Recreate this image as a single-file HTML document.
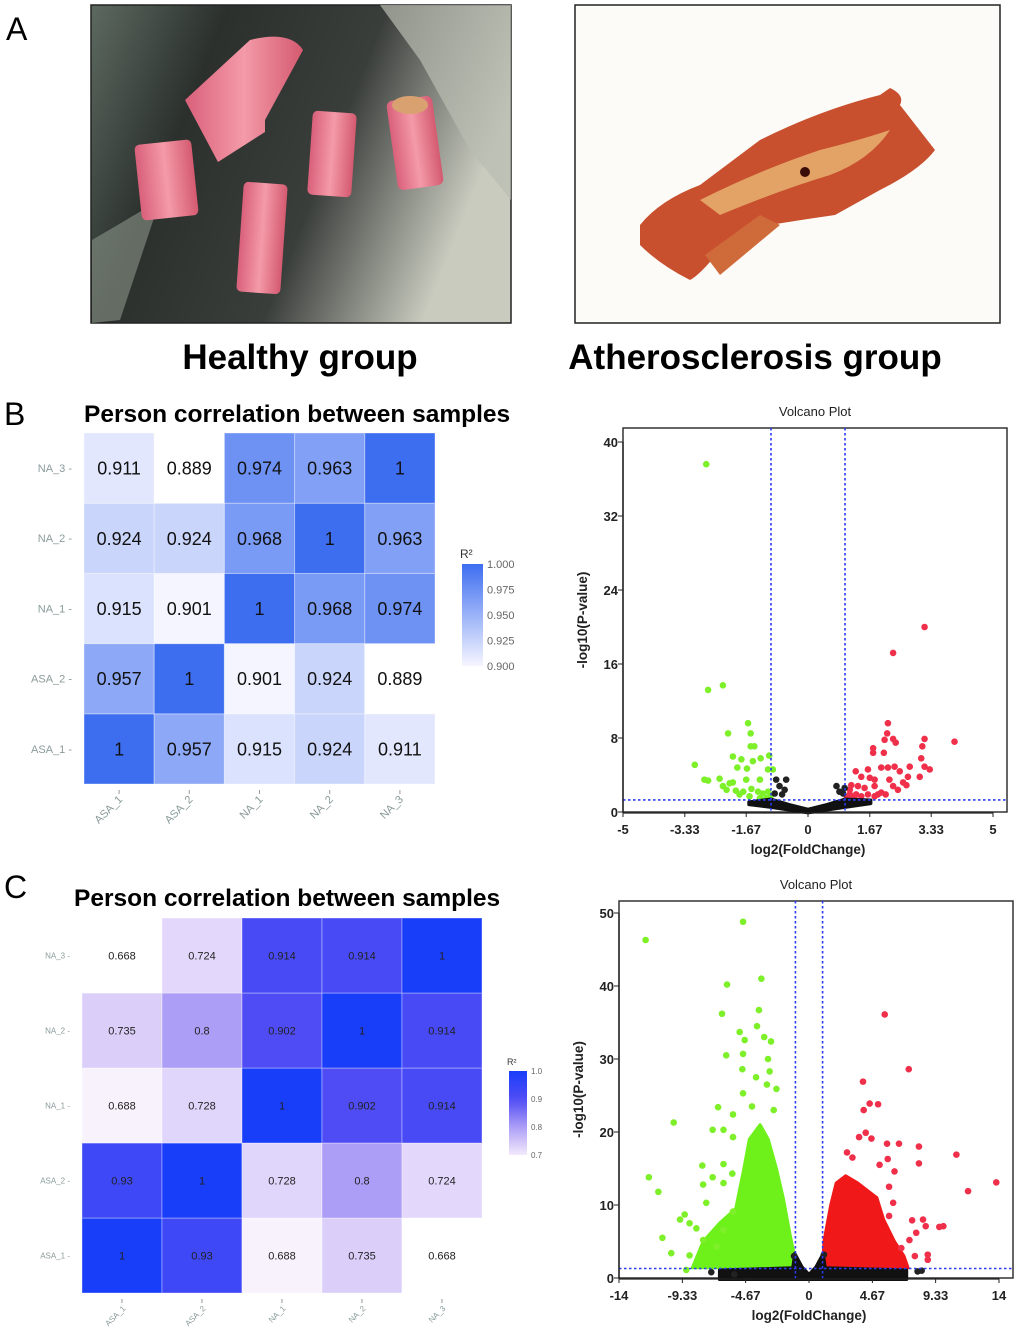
<!DOCTYPE html>
<html><head><meta charset="utf-8">
<style>
html,body{margin:0;padding:0;background:#fff;}
svg{display:block;font-family:"Liberation Sans",sans-serif;}
</style></head>
<body>
<svg id="fig" width="1020" height="1335" viewBox="0 0 1020 1335" xmlns="http://www.w3.org/2000/svg">
<!-- Panel A -->
<text x="6" y="40" font-size="32">A</text>
<g>
  <defs>
    <linearGradient id="lbg" x1="0" y1="0" x2="1" y2="0.3">
      <stop offset="0" stop-color="#5d6a60"/><stop offset="0.3" stop-color="#2b302d"/>
      <stop offset="0.65" stop-color="#3a3e3b"/><stop offset="1" stop-color="#c9cbbf"/>
    </linearGradient>
    <linearGradient id="tube" x1="0" y1="0" x2="1" y2="0">
      <stop offset="0" stop-color="#d9607a"/><stop offset="0.5" stop-color="#f49aa8"/><stop offset="1" stop-color="#d45a70"/>
    </linearGradient>
  </defs>
  <rect x="91" y="5" width="420" height="318" fill="url(#lbg)" stroke="#222" stroke-width="1.5"/>
  <path d="M380 5 L511 5 L511 200 L470 150 L420 60 Z" fill="#b9bcb0" opacity="0.7"/>
  <path d="M92 240 L160 200 L120 320 L92 323 Z" fill="#8a9488" opacity="0.6"/>
  <rect x="138" y="142" width="57" height="76" rx="5" fill="url(#tube)" transform="rotate(-6 166 180)"/>
  <path d="M185 100 L250 40 Q290 30 303 50 L265 120 L265 132 L218 162 Z" fill="url(#tube)"/>
  <rect x="310" y="112" width="44" height="84" rx="5" fill="url(#tube)" transform="rotate(4 332 154)"/>
  <rect x="392" y="98" width="46" height="90" rx="6" fill="url(#tube)" transform="rotate(-8 415 143)"/>
  <ellipse cx="410" cy="105" rx="18" ry="9" fill="#d9a070"/>
  <rect x="240" y="183" width="44" height="110" rx="5" fill="url(#tube)" transform="rotate(4 262 238)"/>
</g>
<g>
  <rect x="575" y="5" width="425" height="318" fill="#fdfbf8" stroke="#222" stroke-width="1.5"/>
  <path d="M640 225 Q660 200 700 185 L760 140 Q820 110 880 95 L890 88 Q905 95 900 105 L935 150 Q920 170 880 190 L835 215 Q800 220 770 225 L720 250 Q700 275 690 280 Q660 265 640 245 Z" fill="#c8502e"/>
  <path d="M700 200 Q760 170 820 150 Q860 140 890 130 Q870 160 830 175 Q780 190 720 215 Z" fill="#e3a366"/>
  <path d="M705 255 L760 215 L780 225 L720 275 Z" fill="#cf6a3a"/>
  <circle cx="805" cy="172" r="5" fill="#3a0c08"/>
</g>
<text x="300" y="369" font-size="35" font-weight="bold" text-anchor="middle">Healthy group</text>
<text x="755" y="369" font-size="35" font-weight="bold" text-anchor="middle">Atherosclerosis group</text>

<text x="4" y="425" font-size="32">B</text>
<text x="84" y="422" font-size="24.5" font-weight="bold">Person correlation between samples</text>
<g id="hmB"></g>
<g id="volB"></g>

<text x="4" y="898" font-size="32">C</text>
<text x="74" y="906" font-size="24.5" font-weight="bold">Person correlation between samples</text>
<g id="hmC"></g>
<g id="volC"></g>
</svg>
<script>
// ---------- data ----------
const samples = ["ASA_1","ASA_2","NA_1","NA_2","NA_3"];
const corrB = [
 [1,0.957,0.915,0.924,0.911],
 [0.957,1,0.901,0.924,0.889],
 [0.915,0.901,1,0.968,0.974],
 [0.924,0.924,0.968,1,0.963],
 [0.911,0.889,0.974,0.963,1]
];
const corrC = [
 [1,0.93,0.688,0.735,0.668],
 [0.93,1,0.728,0.8,0.724],
 [0.688,0.728,1,0.902,0.914],
 [0.735,0.8,0.902,1,0.914],
 [0.668,0.724,0.914,0.914,1]
];
const legendTicksB = [1.000,0.975,0.950,0.925,0.900];
const legendTicksC = [1.0,0.9,0.8,0.7];

const xTicksB = [-5,-3.33,-1.67,0,1.67,3.33,5];
const yTicksB = [0,8,16,24,32,40];
const upB_x = [3.15,2.3,2.16,3.96,3.15,2.14,2.07,2.3,2.37,1.76,1.76,2.05,3.09,3.06,3.15,3.29,2.75,1.98,2.16,2.34,1.62,1.29,2.48,2.7,3.02,1.44,1.67,1.8,2.57,2.66,1.17,1.35,1.53,1.8,2.3,2.43,2.2,1.98,2.1,1.13,1.3,1.44,1.62,1.8,1.89,1.13,1.05,1.25];
const upB_y = [20.0,17.2,9.6,7.6,7.9,8.5,7.8,7.9,7.5,6.9,6.4,6.4,7.1,5.8,4.9,4.6,4.9,4.8,4.8,4.9,4.6,4.4,4.4,3.8,3.8,3.8,3.7,3.5,3.2,2.9,2.9,2.8,2.6,2.8,2.8,2.4,3.5,2.1,1.9,1.9,1.9,1.7,1.9,1.7,1.9,2.4,1.6,1.5];
const downB_x = [-2.75,-2.7,-2.3,-1.62,-2.16,-1.55,-1.55,-1.45,-2.03,-1.8,-1.28,-1.05,-3.06,-1.49,-1.91,-1.65,-1.08,-0.95,-2.8,-2.7,-2.39,-2.12,-2.03,-2.3,-1.67,-1.3,-1.95,-1.75,-1.53,-1.35,-1.22,-1.08,-1.85,-1.58,-1.3,-1.12,-2.2,-1.0];
const downB_y = [37.6,13.2,13.7,9.6,8.5,8.5,7.1,7.1,6.0,5.7,5.8,6.1,5.1,5.5,4.8,4.7,4.6,4.6,3.5,3.4,3.6,3.1,3.2,2.8,3.5,3.5,2.3,2.2,2.5,2.2,2.0,2.2,1.9,1.7,1.5,1.5,2.4,1.8];
const nsB_x = [-0.86,-0.59,-0.77,-0.63,0.77,0.99,0.95,-0.9,0.85,-0.7];
const nsB_y = [3.5,3.5,2.8,2.4,2.8,2.6,2.0,2.0,2.2,1.9];
const nsBandB_x = [-1.6,-1.0,-0.5,0,0.5,1.0,1.7,1.7,1.0,0.5,0,-0.5,-1.0,-1.6];
const nsBandB_y = [1.1,1.4,0.8,0.3,0.8,1.4,1.3,0.9,0.5,0.2,-0.1,0.2,0.5,0.8];

const xTicksC = [-14,-9.33,-4.67,0,4.67,9.33,14];
const yTicksC = [0,10,20,30,40,50];
const downC_x = [-12.04,-4.86,-3.51,-6.04,-3.69,-6.41,-3.83,-5.11,-4.74,-6.1,-4.86,-3.02,-4.91,-2.9,-2.4,-4.86,-6.7,-9.97,-5.6,-7.1,-6.3,-5.6,-7.86,-6.3,-11.8,-11.1,-7.8,-7.1,-6.3,-5.65,-7.57,-5.6,-9.16,-9.5,-8.8,-8.3,-10.8,-10.15,-8.8,-9.04,-7.8,-6.8,-6.3,-3.3,-2.8,-3.9,-4.2,-2.6,-3.1];
const downC_y = [46.3,48.8,41.0,40.2,36.7,36.2,34.5,33.7,32.6,30.5,30.7,30.0,28.6,28.3,25.9,25.3,23.4,21.3,22.4,20.3,20.3,19.3,15.4,15.6,13.8,11.8,12.8,13.8,13.0,14.3,10.3,9.1,8.7,8.0,7.5,6.8,5.5,3.4,3.1,1.1,5.2,4.3,6.6,33.0,32.4,27.5,23.5,23.0,26.5];
const denseDownC_x = [-8.6,-7.8,-6.6,-5.4,-4.8,-4.4,-3.6,-3.0,-2.4,-1.9,-1.4,-1.0,-1.0];
const denseDownC_y = [1.4,5.0,7.5,9.5,15,19,21,19,15,11,6,2.5,1.4];
const upC_x = [5.58,7.35,3.98,4.47,5.09,4.03,4.18,3.69,4.6,5.75,6.63,8.1,10.86,8.1,5.2,5.8,6.3,13.8,11.72,5.9,6.2,5.9,7.6,8.4,8.6,9.6,9.9,7.9,7.4,8.75,8.75,7.8,6.8,3.2,2.8];
const upC_y = [36.1,28.6,26.9,23.9,23.8,23.0,19.9,19.3,19.1,18.4,18.4,18.0,16.9,15.7,15.5,16.3,14.6,13.1,11.9,12.5,10.3,8.5,7.9,8.0,7.1,7.0,7.1,6.2,5.2,3.2,2.5,3.0,4.1,16.5,17.2];
const denseUpC_x = [1.0,1.1,1.6,2.0,2.7,3.6,4.3,5.0,5.5,6.3,7.0,7.3];
const denseUpC_y = [1.4,5,10,13,14,13,12,11,8,5,3,1.4];
const nsC_x = [-7.2,-5.5,8.0,8.3,-1.1,1.1];
const nsC_y = [0.8,0.5,0.9,1.0,3.0,3.2];
const nsBandC_x = [-6.6,-1.2,-1.05,-0.5,0,0.5,1.05,1.2,7.2,7.2,-6.6];
const nsBandC_y = [1.1,1.4,3.4,1.5,0.5,1.5,3.4,1.4,1.1,-0.2,-0.2];

// ---------- helpers ----------
const NS = "http://www.w3.org/2000/svg";
function mk(tag, attrs, parent){
  const e = document.createElementNS(NS, tag);
  for (const k in attrs) e.setAttribute(k, attrs[k]);
  parent.appendChild(e);
  return e;
}
function lerp(a,b,t){return Math.round(a+(b-a)*t);}
function colorB(v){
  if (v < 0.9) return "#ffffff";
  const t = Math.min(1,(v-0.9)/0.1);
  return `rgb(${lerp(246,62,t)},${lerp(246,110,t)},${lerp(255,240,t)})`;
}
const stopsC = [[0.668,[255,255,255]],[0.7,[244,234,252]],[0.8,[172,158,246]],[0.9,[80,76,245]],[1.0,[25,62,250]]];
function colorC(v){
  if (v <= 0.67) return "#ffffff";
  for (let i=1;i<stopsC.length;i++){
    if (v <= stopsC[i][0]){
      const a=stopsC[i-1], b=stopsC[i];
      const t=(v-a[0])/(b[0]-a[0]);
      return `rgb(${lerp(a[1][0],b[1][0],t)},${lerp(a[1][1],b[1][1],t)},${lerp(a[1][2],b[1][2],t)})`;
    }
  }
  return "rgb(25,62,250)";
}

function heatmap(g, data, opt){
  const n = samples.length;
  for (let r=0;r<n;r++){
    for (let c=0;c<n;c++){
      const v = data[r][c];
      const x = opt.left + c*opt.cw, y = opt.top + (n-1-r)*opt.ch;
      const cell = mk("rect",{x:x,y:y,width:opt.cw,height:opt.ch,fill:opt.color(v),stroke:"rgba(255,255,255,0.35)","stroke-width":1},g);
      
      
      const t = mk("text",{x:x+opt.cw/2,y:y+opt.ch/2+opt.fs*0.36,"text-anchor":"middle","font-size":opt.fs,fill:opt.txt},g);
      t.textContent = String(v);
      
      
    }
  }
  for (let i=0;i<n;i++){
    const yc = opt.top + (n-1-i)*opt.ch + opt.ch/2;
    const yl = mk("text",{x:opt.left-12,y:yc+opt.lfs*0.35,"text-anchor":"end","font-size":opt.lfs,fill:"#8a9a9a"},g);
    yl.textContent = samples[i]+" -";
    
    
    const xc = opt.left + i*opt.cw + opt.cw/2;
    const by = opt.top + n*opt.ch;
    mk("line",{x1:xc,y1:by+6,x2:xc,y2:by+10,stroke:"#999"},g);
    const xl = mk("text",{x:xc+4,y:by+16,"text-anchor":"end","font-size":opt.lfs,fill:"#8a9a9a",transform:`rotate(-45 ${xc+4} ${by+16})`},g);
    xl.textContent = samples[i];
    
    
  }
  const lg = mk("g",{},g);
  
  
  const gid = "grad"+opt.id;
  const defs = mk("defs",{},lg);
  const grad = mk("linearGradient",{id:gid,x1:0,y1:1,x2:0,y2:0},defs);
  const lo = opt.ticks[opt.ticks.length-1], hi = opt.ticks[0];
  for (let k=0;k<=10;k++){
    const v = lo + (hi-lo)*k/10;
    mk("stop",{offset:k/10,"stop-color":opt.color(v===lo && opt.id==="B"?0.9:v)},grad);
  }
  mk("rect",{x:opt.lx,y:opt.ly,width:opt.lw,height:opt.lh,fill:`url(#${gid})`},lg);
  const ttl = mk("text",{x:opt.lx-2,y:opt.ly-6,"font-size":opt.lfs+1,fill:"#333"},lg);
  ttl.textContent = "R²";
  opt.ticks.forEach(v=>{
    const y = opt.ly + opt.lh*(hi-v)/(hi-lo);
    const t = mk("text",{x:opt.lx+opt.lw+4,y:y+opt.lfs*0.35,"font-size":opt.lfs,fill:"#666"},lg);
    t.textContent = opt.id==="B" ? v.toFixed(3) : v.toFixed(1);
    
    
  });
}

heatmap(document.getElementById("hmB"), corrB, {id:"B",left:84,top:433,cw:70.2,ch:70.2,fs:18,lfs:11,txt:"#111",color:colorB,lx:462,ly:564,lw:21,lh:102,ticks:legendTicksB});
heatmap(document.getElementById("hmC"), corrC, {id:"C",left:82,top:918,cw:80,ch:75,fs:11,lfs:8,txt:"#222",color:colorC,lx:509,ly:1071,lw:18,lh:84,ticks:legendTicksC});

function volcano(g, o){
  const sx = v => o.x0 + (v - o.xmin)*(o.x1-o.x0)/(o.xmax-o.xmin);
  const sy = v => o.y0 - (v - o.ymin)*(o.y0-o.y1)/(o.ymax-o.ymin);
  const t = mk("text",{x:(o.bl+o.br)/2,y:o.bt-12,"text-anchor":"middle","font-size":13,fill:"#222"},g);
  t.textContent = "Volcano Plot";
  
  
  mk("rect",{x:o.bl,y:o.bt,width:o.br-o.bl,height:o.bb-o.bt,fill:"#fff",stroke:"#333","stroke-width":1.5},g);
  const env = (xs,ys,col)=>{
    const pts = xs.map((x,i)=>sx(x)+","+sy(ys[i])).join(" ");
    const p = mk("polygon",{points:pts,fill:col,stroke:col,"stroke-width":3,"stroke-linejoin":"round"},g);
    
    
  };
  const pts = (xs,ys,col,name)=>{
    xs.forEach((x,i)=>{
      const c = mk("circle",{cx:sx(x),cy:sy(ys[i]),r:o.r,fill:col},g);
      
      
    });
  };
  if (o.denseDown) env(o.denseDown[0],o.denseDown[1],"#6ef01a");
  if (o.denseUp) env(o.denseUp[0],o.denseUp[1],"#f01818");
  pts(o.down[0],o.down[1],"#7ef02a","down-regulated-point");
  pts(o.up[0],o.up[1],"#f0304a","up-regulated-point");
  env(o.nsBand[0],o.nsBand[1],"#111");
  pts(o.ns[0],o.ns[1],"#222","not-significant-point");
  const dash = {stroke:"#2a3cf0","stroke-width":1.6,"stroke-dasharray":"2.5,2.5"};
  [-1,1].forEach(v=>{
    const l = mk("line",Object.assign({x1:sx(v),y1:o.bt,x2:sx(v),y2:o.bb},dash),g);
    
    
  });
  const h = mk("line",Object.assign({x1:o.bl,y1:sy(1.3),x2:o.br,y2:sy(1.3)},dash),g);
  
  
  mk("line",{x1:o.x0,y1:o.y0+1,x2:o.x1,y2:o.y0+1,stroke:"#222","stroke-width":1.3},g);
  mk("line",{x1:o.bl,y1:o.y0,x2:o.bl,y2:o.y1,stroke:"#222","stroke-width":1.3},g);
  o.xt.forEach(v=>{
    mk("line",{x1:sx(v),y1:o.y0,x2:sx(v),y2:o.y0+5,stroke:"#222"},g);
    const tt = mk("text",{x:sx(v),y:o.y0+22,"text-anchor":"middle","font-size":13,"font-weight":"bold",fill:"#222"},g);
    tt.textContent = String(v);
    
    
  });
  o.yt.forEach(v=>{
    mk("line",{x1:o.bl-5,y1:sy(v),x2:o.bl,y2:sy(v),stroke:"#222"},g);
    const tt = mk("text",{x:o.bl-5,y:sy(v)+5,"text-anchor":"end","font-size":13,"font-weight":"bold",fill:"#222"},g);
    tt.textContent = String(v);
    
    
  });
  const xtl = mk("text",{x:(o.x0+o.x1)/2,y:o.y0+42,"text-anchor":"middle","font-size":13.5,"font-weight":"bold",fill:"#222"},g);
  xtl.textContent = "log2(FoldChange)";
  
  
  const yc = (o.bt+o.bb)/2;
  const ytl = mk("text",{x:o.ytx,y:yc,"text-anchor":"middle","font-size":13.5,"font-weight":"bold",fill:"#222",transform:`rotate(-90 ${o.ytx} ${yc})`},g);
  ytl.textContent = "-log10(P-value)";
  
  
}

volcano(document.getElementById("volB"), {
  x0:623,x1:993,xmin:-5,xmax:5,y0:812,y1:442,ymin:0,ymax:40,
  bl:623,br:1007,bt:428,bb:812,r:3.3,ytx:587,
  xt:xTicksB,yt:yTicksB,
  up:[upB_x,upB_y],down:[downB_x,downB_y],ns:[nsB_x,nsB_y],nsBand:[nsBandB_x,nsBandB_y]
});
volcano(document.getElementById("volC"), {
  x0:619,x1:999,xmin:-14,xmax:14,y0:1278,y1:913,ymin:0,ymax:50,
  bl:619,br:1013,bt:901,bb:1278,r:3.3,ytx:583,
  xt:xTicksC,yt:yTicksC,
  up:[upC_x,upC_y],down:[downC_x,downC_y],ns:[nsC_x,nsC_y],nsBand:[nsBandC_x,nsBandC_y],
  denseDown:[denseDownC_x,denseDownC_y],denseUp:[denseUpC_x,denseUpC_y]
});
</script>
</body></html>
